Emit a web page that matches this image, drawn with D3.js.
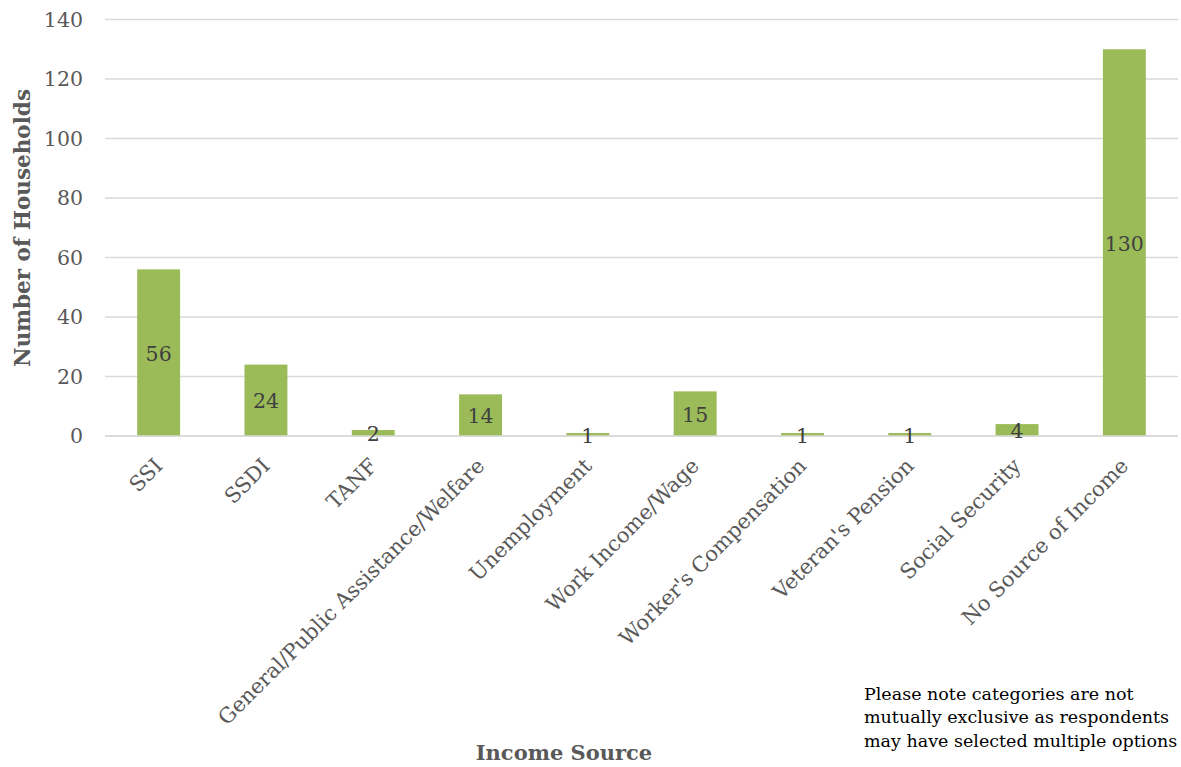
<!DOCTYPE html>
<html>
<head>
<meta charset="utf-8">
<script src="https://cdn.jsdelivr.net/npm/d3@7"></script>
<style>
  html, body { margin: 0; padding: 0; background: #fff; }
  svg { display: block; }
</style>
</head>
<body>
<svg id="chart" width="1181" height="767"></svg>
<script>
const categories = ["SSI", "SSDI", "TANF", "General/Public Assistance/Welfare", "Unemployment",
  "Work Income/Wage", "Worker's Compensation", "Veteran's Pension", "Social Security", "No Source of Income"];
const values = [56, 24, 2, 14, 1, 15, 1, 1, 4, 130];
const yTicks = [0, 20, 40, 60, 80, 100, 120, 140];
const yTitle = "Number of Households";
const xTitle = "Income Source";
const noteLines = ["Please note categories are not", "mutually exclusive as respondents", "may have selected multiple options"];

const svg = d3.select("#chart");
const serif = "'DejaVu Serif', 'Liberation Serif', serif";

const x = d3.scaleBand().domain(categories).range([105, 1178]).paddingInner(0.6).paddingOuter(0.3);
const y = d3.scaleLinear().domain([0, 140]).range([436, 19.5]);

// gridlines
svg.append("g").selectAll("line").data(yTicks).join("line")
  .attr("x1", 105).attr("x2", 1178)
  .attr("y1", d => y(d)).attr("y2", d => y(d))
  .attr("stroke", "#d9d9d9").attr("stroke-width", 1.3);

// y axis labels
const yAxis = d3.axisLeft(y).tickValues(yTicks).tickSize(0).tickPadding(0);
const yg = svg.append("g").attr("transform", "translate(83,0)").call(yAxis);
yg.select(".domain").remove();
yg.selectAll("text").attr("font-family", serif).attr("font-size", 20.5).attr("fill", "#595959");

// bars
svg.append("g").selectAll("rect").data(categories).join("rect")
  .attr("x", d => x(d)).attr("width", x.bandwidth())
  .attr("y", (d, i) => y(values[i])).attr("height", (d, i) => y(0) - y(values[i]))
  .attr("fill", "#9bbb59");

// baseline
svg.append("line").attr("x1", 105).attr("x2", 1178).attr("y1", y(0)).attr("y2", y(0))
  .attr("stroke", "#d9d9d9").attr("stroke-width", 1.5);

// data labels
svg.append("g").selectAll("text").data(categories).join("text")
  .attr("x", d => x(d) + x.bandwidth() / 2)
  .attr("y", (d, i) => y(values[i] / 2) + 1)
  .attr("dy", "0.35em")
  .attr("text-anchor", "middle")
  .attr("font-family", serif).attr("font-size", 20.5).attr("fill", "#404040")
  .text((d, i) => values[i]);

// x axis labels
const xAxis = d3.axisBottom(x).tickSize(0).tickPadding(0);
const xg = svg.append("g").call(xAxis);
xg.select(".domain").remove();
xg.selectAll(".tick").attr("transform", d => `translate(${x(d) + x.bandwidth() / 2},462)`);
xg.selectAll("text")
  .attr("font-family", serif).attr("font-size", 21).attr("fill", "#595959")
  .attr("text-anchor", "end").attr("x", 0).attr("y", 0).attr("dy", "0.35em")
  .attr("transform", "rotate(-45)");

// axis titles
svg.append("text").attr("transform", "translate(30,228) rotate(-90)")
  .attr("text-anchor", "middle")
  .attr("font-family", serif).attr("font-size", 21.5).attr("font-weight", "bold").attr("fill", "#595959")
  .text(yTitle);
svg.append("text").attr("x", 564).attr("y", 760)
  .attr("text-anchor", "middle")
  .attr("font-family", serif).attr("font-size", 21).attr("font-weight", "bold").attr("fill", "#595959")
  .text(xTitle);

// note
svg.append("g").selectAll("text").data(noteLines).join("text")
  .attr("x", 864).attr("y", (d, i) => 700 + i * 23.3)
  .attr("font-family", serif).attr("font-size", 17.5).attr("fill", "#000")
  .text(d => d);
</script>
</body>
</html>
